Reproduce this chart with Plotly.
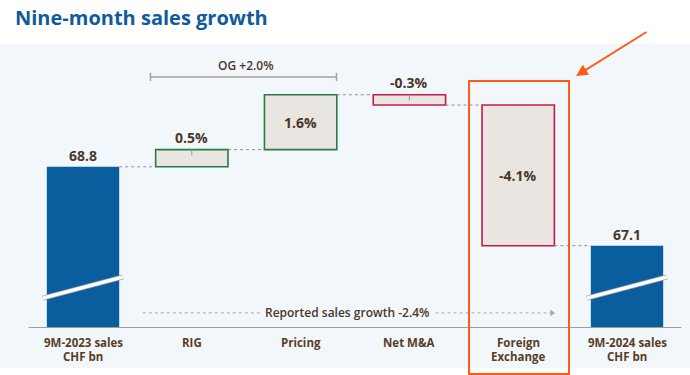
import plotly.graph_objects as go

# ---- data ----
categories = ["9M-2023 sales<br>CHF bn", "RIG", "Pricing", "Net M&A", "Foreign<br>Exchange", "9M-2024 sales<br>CHF bn"]
start_sales = 68.8
end_sales = 67.1
step_values = [0.5, 1.6, -0.3, -4.1]
step_labels = ["0.5%", "1.6%", "-0.3%", "-4.1%"]
og_label = "OG +2.0%"
reported_label = "Reported sales growth -2.4%"
title_text = "Nine-month sales growth"

# ---- styling constants ----
FONT = "Open Sans"
BLUE = "#0a5e9e"
TITLE_BLUE = "#105b9c"
PANEL = "#f2f7fc"
STEP_FILL = "#e9e6e2"
POS_LINE = "#2a7a45"
NEG_LINE = "#c8194a"
TXT = "#4a3826"
GRAY = "#a8a29c"
ORANGE = "#ff5a14"

W, H = 690, 375
ML, MR, MT, MB = 0, 0, 44, 47
AXIS_FLOOR = 95.3
PPU = 34.3
plot_h = H - MT - MB
y_top = AXIS_FLOOR + plot_h / PPU
BASE = 100.0
BW = 0.665
x_range = [-0.763, -0.763 + (W - ML - MR) / 108.8]

# cumulative levels (index, base = 100 for start)
levels = [BASE]
for s in step_values:
    levels.append(levels[-1] + s)
end_level = levels[-1]

fig = go.Figure()

# start / end totals
fig.add_trace(go.Bar(x=[0, 5], y=[BASE - AXIS_FLOOR, end_level - AXIS_FLOOR], base=[AXIS_FLOOR, AXIS_FLOOR],
                     width=BW, marker=dict(color=BLUE, line=dict(width=0)), hoverinfo="skip"))
# steps
fig.add_trace(go.Bar(x=[1, 2, 3, 4], y=step_values, base=levels[:-1], width=BW,
                     marker=dict(color=STEP_FILL,
                                 line=dict(color=[POS_LINE if v > 0 else NEG_LINE for v in step_values], width=1.6)),
                     hoverinfo="skip"))

shapes = []
annotations = []

# panel background extended below the plot area
shapes.append(dict(type="rect", xref="paper", yref="paper", x0=0, x1=1, y0=-40 / plot_h, y1=1,
                   fillcolor=PANEL, line=dict(width=0), layer="below"))

# axis baseline
shapes.append(dict(type="line", xref="x", yref="y", x0=-0.5, x1=5.5, y0=AXIS_FLOOR, y1=AXIS_FLOOR,
                   line=dict(color="#a39d97", width=2)))

# connectors
for i in range(5):
    lv = levels[i]
    shapes.append(dict(type="line", xref="x", yref="y", x0=i + BW / 2, x1=i + 1 - BW / 2, y0=lv, y1=lv,
                       line=dict(color="#8f8f8f", width=1, dash="dot")))

# small leader ticks on outside-labelled steps
for i, v in enumerate(step_values):
    if abs(v) < 1:
        top = max(levels[i], levels[i + 1])
        shapes.append(dict(type="line", xref="x", yref="y", x0=i + 1, x1=i + 1, y0=top, y1=top - 0.17,
                           line=dict(color="#9a9a9a", width=1)))

# break marks on total bars
for xc in [0, 5]:
    shapes.append(dict(type="line", xref="x", yref="y", x0=xc - 0.37, x1=xc + 0.37,
                       y0=AXIS_FLOOR + 0.87, y1=AXIS_FLOOR + 1.49, line=dict(color="#9aa7b3", width=5)))
    shapes.append(dict(type="line", xref="x", yref="y", x0=xc - 0.37, x1=xc + 0.37,
                       y0=AXIS_FLOOR + 0.87, y1=AXIS_FLOOR + 1.49, line=dict(color="white", width=3.2)))

# OG bracket
og_y = levels[2] + 0.52
shapes.append(dict(type="line", xref="x", yref="y", x0=0.62, x1=2.33, y0=og_y, y1=og_y, line=dict(color=GRAY, width=1.5)))
for xe in [0.62, 2.33]:
    shapes.append(dict(type="line", xref="x", yref="y", x0=xe, x1=xe, y0=og_y - 0.12, y1=og_y + 0.12,
                       line=dict(color=GRAY, width=1.5)))
annotations.append(dict(x=1.5, y=og_y, xref="x", yref="y", text=og_label, showarrow=False, yanchor="bottom",
                        yshift=1, font=dict(family=FONT, size=12, color=TXT, weight=600)))

# reported sales growth
rep_y = AXIS_FLOOR + 0.44
shapes.append(dict(type="line", xref="x", yref="y", x0=0.55, x1=1.65, y0=rep_y, y1=rep_y,
                   line=dict(color="#a6a6a6", width=1, dash="dot")))
shapes.append(dict(type="line", xref="x", yref="y", x0=3.24, x1=4.30, y0=rep_y, y1=rep_y,
                   line=dict(color="#a6a6a6", width=1, dash="dot")))
fig.add_trace(go.Scatter(x=[4.31], y=[rep_y], mode="markers", hoverinfo="skip",
                         marker=dict(symbol="triangle-right", size=6, color="#a6a6a6")))
annotations.append(dict(x=2.43, y=rep_y, xref="x", yref="y", text=reported_label, showarrow=False,
                        font=dict(family=FONT, size=12, color=TXT, weight=600)))

# value labels
annotations.append(dict(x=0, y=BASE, xref="x", yref="y", text=f"{start_sales}", showarrow=False, yanchor="bottom",
                        yshift=0, font=dict(family=FONT, size=14, color=TXT, weight="bold")))
annotations.append(dict(x=5, y=end_level, xref="x", yref="y", text=f"{end_sales}", showarrow=False, yanchor="bottom",
                        yshift=0, font=dict(family=FONT, size=14, color=TXT, weight="bold")))
for i, (v, lab) in enumerate(zip(step_values, step_labels)):
    lo, hi = sorted([levels[i], levels[i + 1]])
    if abs(v) >= 1:
        annotations.append(dict(x=i + 1, y=(lo + hi) / 2, xref="x", yref="y", text=lab, showarrow=False,
                                font=dict(family=FONT, size=14, color=TXT, weight="bold")))
    else:
        annotations.append(dict(x=i + 1, y=hi, xref="x", yref="y", text=lab, showarrow=False, yanchor="bottom",
                                yshift=1, font=dict(family=FONT, size=14, color=TXT, weight="bold")))

# category labels
for i, c in enumerate(categories):
    lines = c.split("<br>")
    for j, line in enumerate(lines):
        annotations.append(dict(x=i, y=0, xref="x", yref="paper", text=line, showarrow=False, yanchor="middle",
                                yshift=-14 - 14 * j, font=dict(family=FONT, size=11.5, color="#5a3d22", weight="bold")))

# orange highlight box and arrow
shapes.append(dict(type="rect", xref="x", yref="paper", x0=3.548, x1=4.467, y0=-(374 - (H - MB)) / plot_h,
                   y1=((H - MB) - 81) / plot_h, line=dict(color=ORANGE, width=2), fillcolor="rgba(0,0,0,0)"))
annotations.append(dict(x=576 / W, y=((H - MB) - 76) / plot_h, xref="paper", yref="paper", text="", showarrow=True,
                        ax=72, ay=-45, axref="pixel", ayref="pixel", arrowhead=2, arrowsize=1.3, arrowwidth=1.8,
                        arrowcolor=ORANGE))

# title
annotations.append(dict(x=13 / W, y=((H - MB) - 18) / plot_h, xref="paper", yref="paper", text=title_text,
                        showarrow=False, xanchor="left", yanchor="middle",
                        font=dict(family=FONT, size=20, color=TITLE_BLUE, weight="bold")))

fig.update_layout(
    width=W, height=H, margin=dict(l=ML, r=MR, t=MT, b=MB),
    paper_bgcolor="white", plot_bgcolor=PANEL, showlegend=False, barmode="overlay",
    xaxis=dict(range=x_range, showgrid=False, zeroline=False, showticklabels=False, fixedrange=True),
    yaxis=dict(range=[AXIS_FLOOR, y_top], showgrid=False, zeroline=False, showticklabels=False, fixedrange=True),
    shapes=shapes, annotations=annotations,
)

fig.write_html("out.html", config={"displayModeBar": False},
               post_script="document.body.style.margin='0px';document.body.style.overflow='hidden';")
